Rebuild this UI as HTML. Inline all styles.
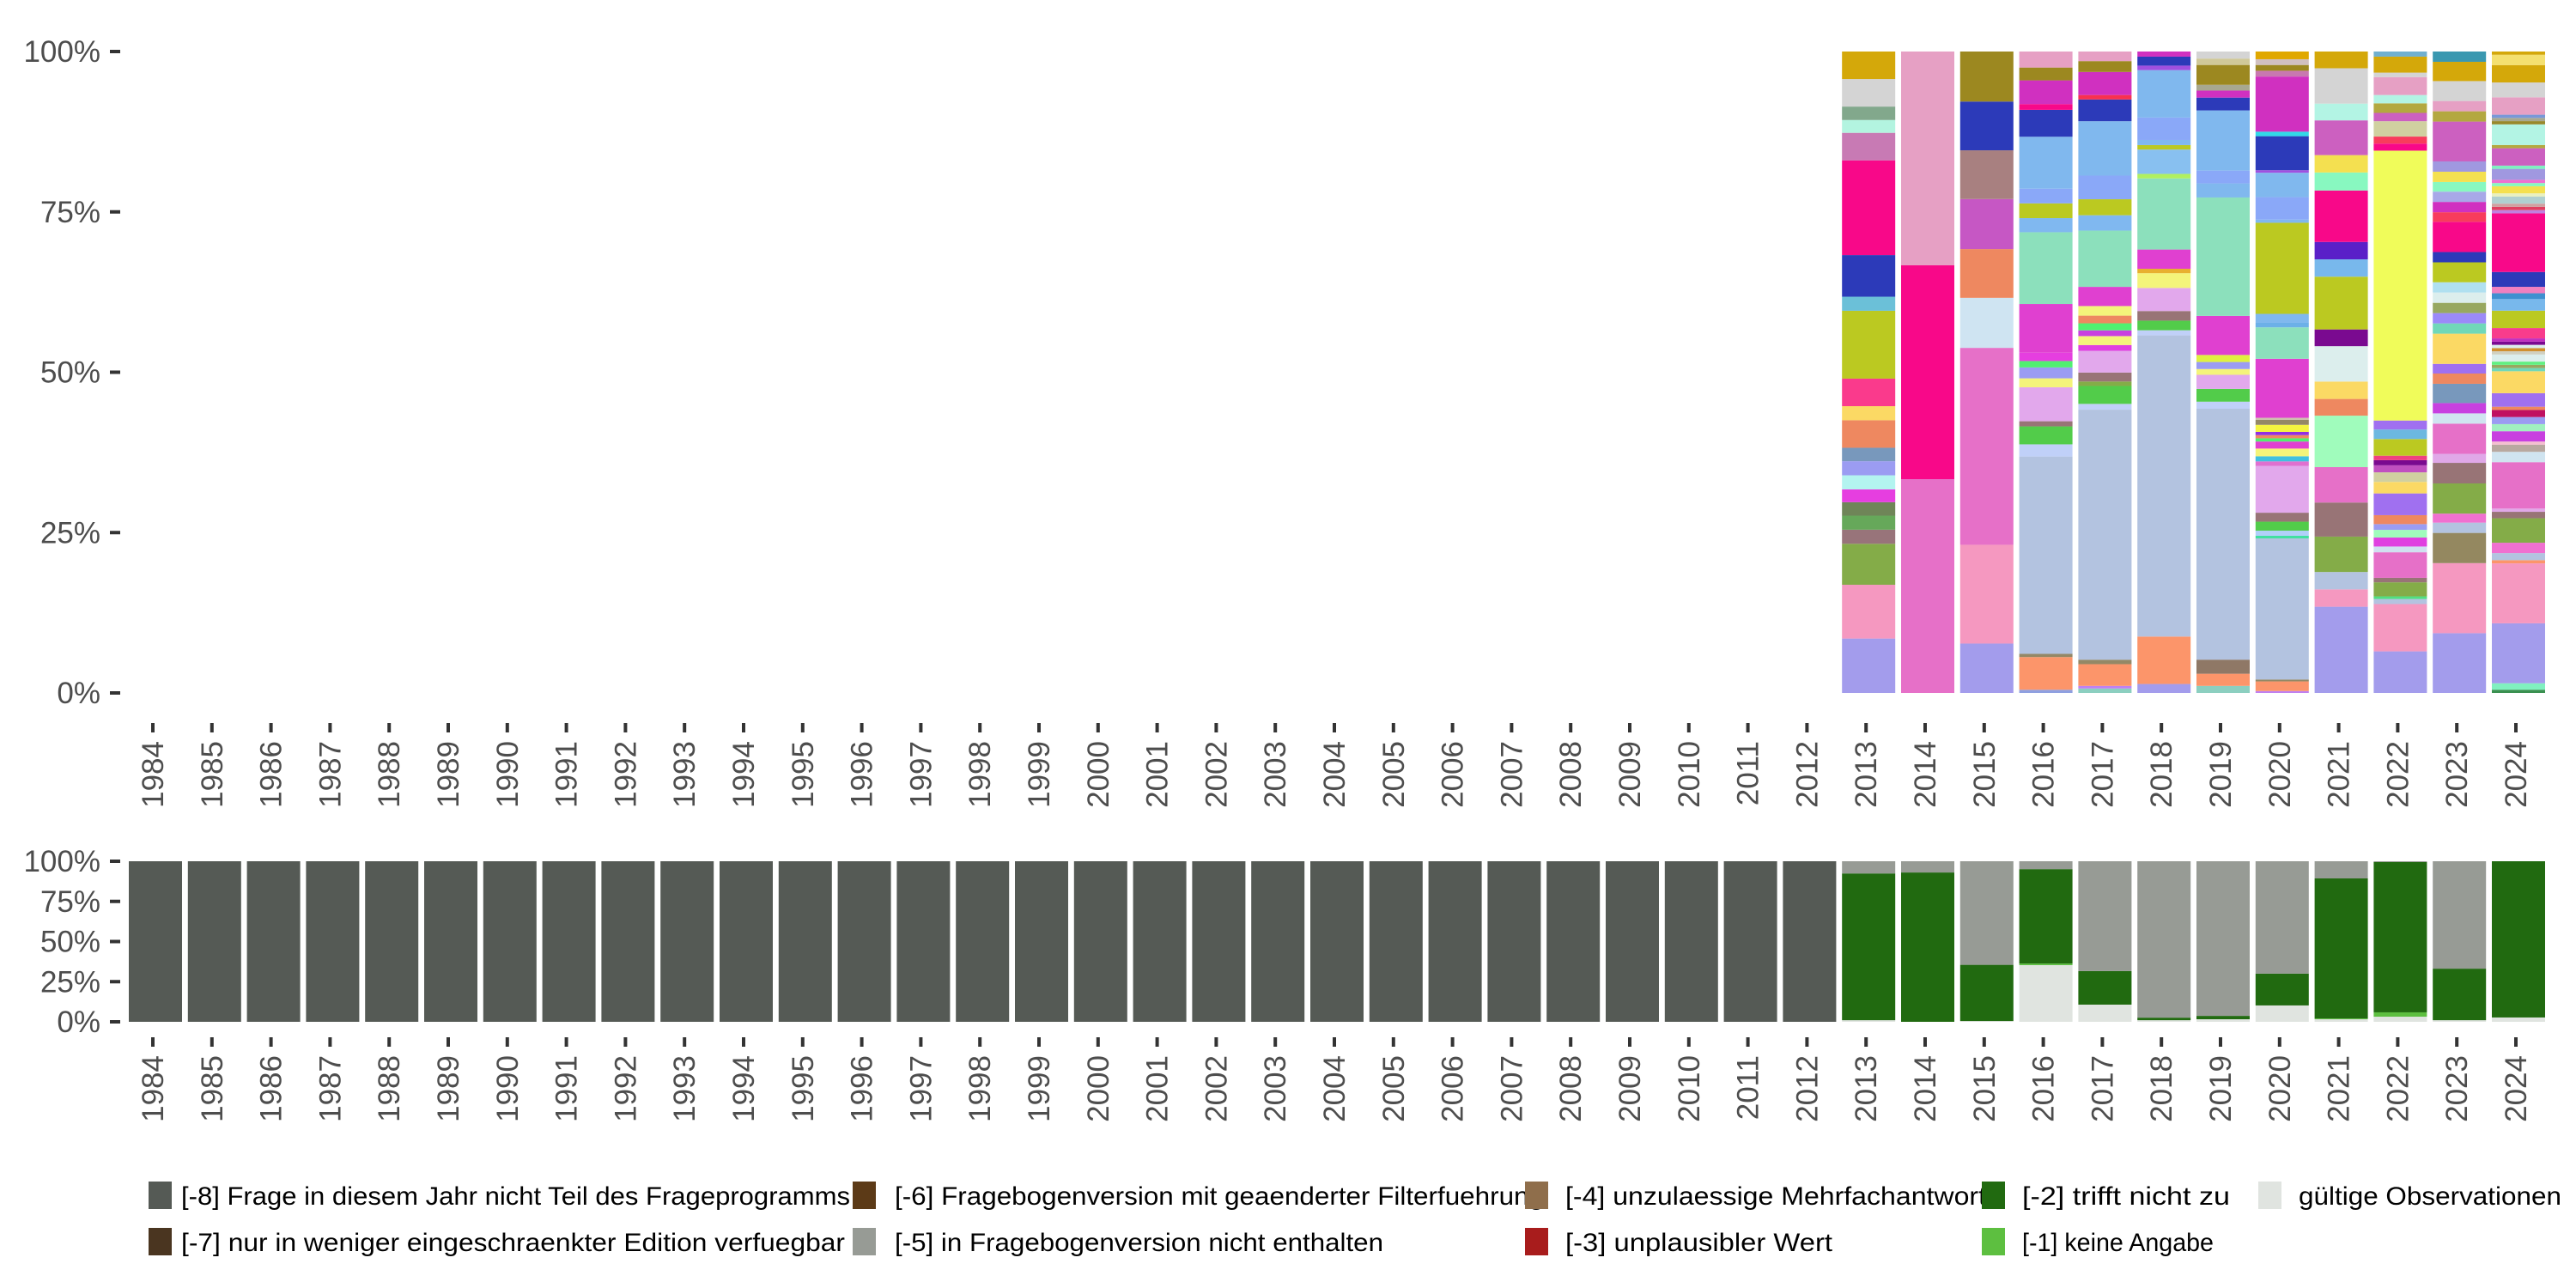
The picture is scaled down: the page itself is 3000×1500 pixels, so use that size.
<!DOCTYPE html>
<html><head><meta charset="utf-8"><style>
html,body{margin:0;padding:0;background:#fff;}
svg{display:block;font-family:"Liberation Sans",sans-serif;}
</style></head><body>
<svg id="chart" width="3000" height="1500" viewBox="0 0 3000 1500" xmlns="http://www.w3.org/2000/svg">
<g id="top-panel"></g>
<g id="bottom-panel"></g>
<g id="legend"></g>
</svg>
<script>
const years = [];
for (let y = 1984; y <= 2024; y++) years.push(String(y));
const yTickLabels = ["0%", "25%", "50%", "75%", "100%"];
const yTickValues = [0, 25, 50, 75, 100];

// ---- top chart: per-year segment values (bottom to top, %) and colours ----
const seg2013Values = [8.5,8.4,6.4,2.2,2.2,2.1,2.0,2.2,2.2,2.1,4.3,2.2,4.3,10.6,2.2,6.5,14.8,4.3,2.0,2.1,4.3,4.3];
const seg2013Colors = ["#a39cec","#f598c0","#84ac48","#98747a","#66a85a","#6f8558","#e63ee0","#b3f4f0","#9b9cf2","#7898bc","#ee8860","#fbd964","#fa3a8c","#bbc921","#6bc0d8","#2c3ab9","#f80889","#c87ab4","#b3f4e0","#82a88c","#d4d4d4","#d4a80a"];
const seg2014Values = [33.3,33.3,33.3];
const seg2014Colors = ["#e670c8","#f80889","#e6a0c4"];
const seg2015Values = [7.7,15.4,30.7,7.8,7.6,7.8,7.6,7.6,7.8];
const seg2015Colors = ["#a39cec","#f598c0","#e670c8","#cfe4f2","#ee8860","#c657c4","#a88080","#2c3ab9","#9c8820"];
const seg2016Values = [0.5,5.1,0.5,30.8,1.9,2.8,0.8,5.3,1.4,1.7,1.0,1.3,7.6,11.2,2.2,2.3,2.3,8.1,4.2,0.9,3.7,2.0,2.5];
const seg2016Colors = ["#8fa0e0","#fc956a","#948866","#b3c3e0","#c0d0f8","#52cc4a","#987476","#e2a8ec","#f4f47a","#9b9cf2","#50f070","#e63ee0","#e040d0","#8ce0bc","#80b8f0","#bbc921","#8aa8f8","#80b8ee","#2c3ab9","#f80889","#d030c0","#9c8820","#e6a0c4"];
const seg2017Values = [0.7,0.4,3.4,0.7,39.1,0.9,2.8,0.7,1.4,3.4,0.9,1.4,0.9,1.1,1.2,1.5,3.0,8.8,2.4,2.5,3.7,8.5,3.4,0.7,3.6,1.7,1.5];
const seg2017Colors = ["#8ccfc0","#c080f0","#fc956a","#948866","#b3c3e0","#c0d0f8","#52cc4a","#84ac48","#987476","#e2a8ec","#e040e0","#f4f47a","#c840e0","#50f070","#ee8860","#f4f47a","#e040d0","#8ce0bc","#80b8f0","#bbc921","#8aa8f8","#80b8ee","#2c3ab9","#f83050","#d030c0","#9c8820","#e6a0c4"];
const seg2018Values = [1.4,7.4,47.0,0.8,1.5,1.5,3.6,2.3,0.7,3.0,11.1,0.7,3.8,0.7,0.8,3.5,7.4,0.7,1.4,0.8];
const seg2018Colors = ["#a39cec","#fc956a","#b3c3e0","#c0d0f8","#52cc4a","#987476","#e2a8ec","#f4f47a","#e8b030","#e040d0","#8ce0bc","#b0f060","#88c0f0","#bbc921","#80b8ee","#8aa8f8","#80b8ee","#a050e0","#2c3ab9","#d030c0"];
const seg2019Values = [1.1,1.9,2.2,39.2,1.1,2.0,2.2,0.9,1.1,1.1,6.1,18.5,2.2,2.0,9.4,2.0,1.1,0.9,3.1,1.0,1.1];
const seg2019Colors = ["#8ccfc0","#fc956a","#8f7866","#b3c3e0","#c0d0f8","#52cc4a","#e2a8ec","#f4f47a","#9b9cf2","#e0f040","#e040d0","#8ce0bc","#80b8ee","#8aa8f8","#80b8ee","#2c3ab9","#d030c0","#a8a890","#9c8820","#d0c898","#d4d4d4"];
const seg2020Values = [0.3,1.5,0.3,22.0,0.4,0.8,1.4,1.4,7.3,0.7,0.8,1.2,1.1,0.5,0.5,0.5,1.1,0.8,0.3,9.2,4.9,0.7,1.4,14.2,0.5,3.5,3.8,0.4,5.3,0.7,8.6,0.9,0.9,0.9,1.2];
const seg2020Colors = ["#c080f0","#fc956a","#948866","#b3c3e0","#40e0a0","#b0d0f8","#52cc4a","#987476","#e2a8ec","#e070d0","#40c0e0","#f4f47a","#e040d0","#50f070","#ee8860","#9030e0","#f4f440","#948866","#d0c0b0","#e040d0","#8ce0bc","#6cb0e8","#80b8ee","#bbc921","#80b8ee","#8aa8f8","#80b8ee","#a050e0","#2c3ab9","#30d8e8","#d030c0","#c878b0","#9c8820","#d0c0c0","#e0a800"];
const seg2021Values = [13.4,2.7,2.7,5.5,5.3,5.5,8.0,2.6,2.7,5.5,2.6,8.2,2.7,2.7,8.0,2.8,2.7,5.4,2.6,5.5,2.6];
const seg2021Colors = ["#a39cec","#f598c0","#b3c3e0","#84ac48","#987476","#e670c8","#a0fcbc","#ee8860","#fbd964","#dceeed","#7a0a90","#bbc921","#78b8ec","#5a20c8","#f80889","#88f8c0","#f4e050","#cc60c0","#b3f4e4","#d4d4d4","#d4a80a"];
const seg2022Values = [6.5,7.4,0.8,0.4,2.2,0.7,4.0,0.9,1.4,1.2,0.9,1.4,3.4,1.8,1.5,1.1,0.8,0.7,2.6,1.5,1.4,42.2,1.1,1.1,2.4,1.3,1.5,1.3,2.8,0.7,2.5,0.8];
const seg2022Colors = ["#a39cec","#f598c0","#b3c3e0","#50e080","#84ac48","#987476","#e670c8","#d0e0f0","#e040e0","#a0fcbc","#9b9cf2","#ee8860","#a070f0","#fbd964","#d0d0a0","#c050c0","#7a0a90","#f04080","#bbc921","#6cb8e0","#a070f0","#f0fc5a","#f80889","#f83c5c","#d0d0a0","#cc60c0","#b3a840","#b3f4e4","#e6a0c4","#d4d4d4","#d4a80a","#70b0d0"];
const seg2023Values = [9.3,10.9,4.7,1.6,1.4,4.7,3.2,1.4,4.7,1.6,1.6,3.0,1.6,1.5,4.7,1.6,1.6,1.6,1.6,1.6,3.1,1.6,4.7,1.5,1.6,1.6,1.5,1.6,1.6,6.2,1.6,1.6,3.1,3.0,1.6];
const seg2023Colors = ["#a39cec","#f598c0","#948860","#b3c3e0","#f070d0","#84ac48","#987476","#e0a8e8","#e670c8","#d0e4f0","#c840e0","#7898bc","#ee8860","#a070f0","#fbd964","#70d8b8","#9b8af8","#98a860","#dceeed","#b0e0f0","#bbc921","#2c3ab9","#f80889","#f83c5c","#d030c0","#a8a8e8","#88f8c0","#f4e050","#a098e0","#cc60c0","#b3a840","#e6a0c4","#d4d4d4","#d4a80a","#3a98b0"];
const seg2024Values = [0.5,1.0,9.3,9.3,0.5,1.1,1.6,3.8,1.0,0.5,7.2,1.6,1.1,0.5,1.6,1.1,1.1,1.1,0.5,2.1,3.4,0.5,0.5,0.5,1.1,0.5,0.5,0.5,0.5,0.5,1.6,2.7,1.8,0.9,1.0,2.3,9.1,0.5,0.5,0.5,1.1,0.5,1.1,0.5,0.5,1.7,0.5,2.7,0.5,3.2,0.5,0.5,0.5,2.7,2.3,2.7,1.6,0.5];
const seg2024Colors = ["#3a9050","#80f0c0","#a39cec","#f598c0","#fc956a","#b3c3e0","#f070d0","#84ac48","#987476","#e0a8e8","#e670c8","#d0e4f0","#b8a8a0","#f4c0d0","#c840e0","#a0f0c0","#9b9cf2","#c01060","#ee8860","#a070f0","#fbd964","#70d8b8","#98a860","#60f080","#dceeed","#d0d0c0","#d09030","#dceeed","#7a0a90","#c030c0","#f83c8c","#bbc921","#78b8ec","#4090d0","#f080c0","#2c3ab9","#f80889","#c080e0","#e04060","#d0a0a0","#b0d0d0","#e8f0c0","#f4e050","#88f8c0","#f070d0","#a098e0","#80f0c0","#cc60c0","#b3a840","#b3f4e4","#98882c","#a8a890","#7898d8","#e6a0c4","#d4d4d4","#d4a80a","#f4e070","#d4a80a"];
const topYears = ["2013","2014","2015","2016","2017","2018","2019","2020","2021","2022","2023","2024"];
const topValues = [seg2013Values,seg2014Values,seg2015Values,seg2016Values,seg2017Values,seg2018Values,seg2019Values,seg2020Values,seg2021Values,seg2022Values,seg2023Values,seg2024Values];
const topColors = [seg2013Colors,seg2014Colors,seg2015Colors,seg2016Colors,seg2017Colors,seg2018Colors,seg2019Colors,seg2020Colors,seg2021Colors,seg2022Colors,seg2023Colors,seg2024Colors];

// ---- bottom chart: category shares per year (1984..2024), % ----
const pre = new Array(29).fill(0);
const gueltigValues     = pre.concat([1.0,0,0.5,35.3,10.7,1.0,1.6,10.2,1.6,3.2,1.0,2.7]);
const keineAngabeValues = pre.concat([0,0,0,1.0,0,0,0,0,0.5,2.7,0,0]);
const trifftNichtValues = pre.concat([91.4,93.0,35.0,58.8,20.9,1.6,2.1,19.8,87.2,93.6,32.1,97.3]);
const nichtEnthaltenValues = pre.concat([7.6,7.0,64.5,4.9,68.4,97.4,96.3,70.0,10.7,0.5,66.9,0]);
const nichtTeilValues   = new Array(29).fill(100).concat(new Array(12).fill(0));
const bottomSeries = [gueltigValues, keineAngabeValues, trifftNichtValues, nichtEnthaltenValues, nichtTeilValues];
const bottomSeriesNames = ["gueltig","keine-angabe","trifft-nicht-zu","nicht-enthalten","nicht-teil"];
const bottomSeriesColors = ["#e0e4e0","#5dbf40","#216a10","#979b95","#555a55"];

const legendLabels = ["[-8] Frage in diesem Jahr nicht Teil des Frageprogramms","[-7] nur in weniger eingeschraenkter Edition verfuegbar","[-6] Fragebogenversion mit geaenderter Filterfuehrung","[-5] in Fragebogenversion nicht enthalten","[-4] unzulaessige Mehrfachantwort","[-3] unplausibler Wert","[-2] trifft nicht zu","[-1] keine Angabe","gültige Observationen"];
const legendColors = ["#555a55","#4a3520","#5c3a17","#979b95","#8f6e4b","#a81c1c","#216a10","#5dbf40","#e0e4e0"];

// ---- layout ----
const NS = "http://www.w3.org/2000/svg";
const bandStart = 181, bandStep = 68.8, barW = 62;
function xCenter(year) { return bandStart + bandStep * years.indexOf(year); }
function mk(tag, attrs, parent) { const e = document.createElementNS(NS, tag); for (const k in attrs) e.setAttribute(k, attrs[k]); parent.appendChild(e); return e; }
function yScale(top, bottom) { return v => bottom - (bottom - top) * v / 100; }

function drawAxes(g, top, bottom, tickTop, labelTop, prefix) {
  const ys = yScale(top, bottom);
  yTickValues.forEach((v, i) => {
    const t = mk("line", {x1:128,x2:140,y1:ys(v),y2:ys(v),stroke:"#333","stroke-width":4}, g);
    
    
    const l = mk("text", {x:117,y:ys(v)+12,"text-anchor":"end","font-size":35,fill:"#4d4d4d"}, g);
    l.textContent = yTickLabels[i];
    
    
  });
  years.forEach(yr => {
    const cx = xCenter(yr) - 3;
    const t = mk("line", {x1:cx,x2:cx,y1:tickTop,y2:tickTop+11,stroke:"#333","stroke-width":4}, g);
    
    
    const l = mk("text", {x:0,y:0,"text-anchor":"end","font-size":35,fill:"#4d4d4d",transform:`translate(${cx+12},${labelTop}) rotate(-90)`}, g);
    l.textContent = yr;
    
    
  });
}

// top chart
const gTop = document.getElementById("top-panel");
const TOP_T = 60, TOP_B = 807;
const ysTop = yScale(TOP_T, TOP_B);
topYears.forEach((yr, i) => {
  const vals = topValues[i], cols = topColors[i];
  const total = vals.reduce((a, b) => a + b, 0);
  let cum = 0;
  const cx = xCenter(yr);
  vals.forEach((v, j) => {
    const p0 = cum / total * 100, p1 = (cum + v) / total * 100;
    cum += v;
    const r = mk("rect", {x:cx-barW/2, y:ysTop(p1), width:barW, height:Math.max(0, ysTop(p0)-ysTop(p1)), fill:cols[j]}, gTop);
    
    
  });
});
drawAxes(gTop, TOP_T, TOP_B, 842, 863, "top");

// bottom chart
const gBot = document.getElementById("bottom-panel");
const BOT_T = 1003, BOT_B = 1190;
const ysBot = yScale(BOT_T, BOT_B);
years.forEach((yr, i) => {
  let cum = 0;
  const cx = xCenter(yr);
  const total = bottomSeries.reduce((a, ser) => a + ser[i], 0);
  bottomSeries.forEach((s, k) => {
    const v = s[i];
    if (v <= 0) return;
    const p0 = cum / total * 100, p1 = (cum + v) / total * 100;
    cum += v;
    const r = mk("rect", {x:cx-barW/2, y:ysBot(p1), width:barW, height:ysBot(p0)-ysBot(p1), fill:bottomSeriesColors[k]}, gBot);
    
    
  });
});
drawAxes(gBot, BOT_T, BOT_B, 1208, 1229, "bottom");

// legend
const gLeg = document.getElementById("legend");
const legKeyX = [173,173,993,993,1776,1776,2308,2308,2630];
const legTextX = [211,211,1042,1042,1823,1823,2355,2355,2677];
const legTextW = [779,773,756,569,490,311,242,223,306];
const legRowY = [1392,1446];
legendLabels.forEach((lab, i) => {
  const row = i === 8 ? 0 : i % 2;
  const cy = legRowY[row];
  const k = mk("rect", {x:legKeyX[i], y:cy-16, width:27, height:32, fill:legendColors[i]}, gLeg);
  
  
  const t = mk("text", {x:legTextX[i], y:cy+11, "font-size":30, fill:"#000", textLength:legTextW[i], lengthAdjust:"spacingAndGlyphs"}, gLeg);
  t.textContent = lab;
  
  
});
</script>
</body></html>
